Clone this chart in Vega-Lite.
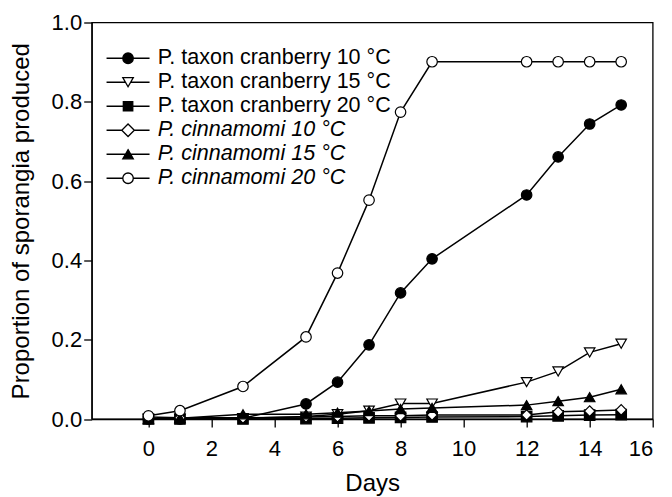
{
  "$schema": "https://vega.github.io/schema/vega-lite/v6.json",
  "width": 561,
  "height": 396.5,
  "autosize": {"type": "none"},
  "padding": {"left": 91.7, "top": 22.5, "right": 19.3, "bottom": 78},
  "background": "white",
  "config": {
    "font": "Liberation Sans",
    "view": {"stroke": "black", "strokeWidth": 1.3},
    "axis": {
      "domainColor": "black", "tickColor": "black", "labelColor": "black", "titleColor": "black",
      "grid": false, "labelFontSize": 22, "titleFontSize": 24, "titleFontWeight": "normal",
      "tickSize": 8, "domainWidth": 1.3, "tickWidth": 1.3,
      "labelFont": "Liberation Sans", "titleFont": "Liberation Sans"
    }
  },
  "datasets": {
    "d": [
      {"day": 0, "series": "P. taxon cranberry 10 °C", "value": 0},
      {"day": 1, "series": "P. taxon cranberry 10 °C", "value": 0},
      {"day": 3, "series": "P. taxon cranberry 10 °C", "value": 0.002},
      {"day": 5, "series": "P. taxon cranberry 10 °C", "value": 0.038},
      {"day": 6, "series": "P. taxon cranberry 10 °C", "value": 0.093},
      {"day": 7, "series": "P. taxon cranberry 10 °C", "value": 0.187},
      {"day": 8, "series": "P. taxon cranberry 10 °C", "value": 0.318},
      {"day": 9, "series": "P. taxon cranberry 10 °C", "value": 0.404},
      {"day": 12, "series": "P. taxon cranberry 10 °C", "value": 0.565},
      {"day": 13, "series": "P. taxon cranberry 10 °C", "value": 0.661},
      {"day": 14, "series": "P. taxon cranberry 10 °C", "value": 0.744},
      {"day": 15, "series": "P. taxon cranberry 10 °C", "value": 0.792},

      {"day": 0, "series": "P. taxon cranberry 15 °C", "value": 0},
      {"day": 1, "series": "P. taxon cranberry 15 °C", "value": 0},
      {"day": 3, "series": "P. taxon cranberry 15 °C", "value": 0.002},
      {"day": 5, "series": "P. taxon cranberry 15 °C", "value": 0.006},
      {"day": 6, "series": "P. taxon cranberry 15 °C", "value": 0.012},
      {"day": 7, "series": "P. taxon cranberry 15 °C", "value": 0.021},
      {"day": 8, "series": "P. taxon cranberry 15 °C", "value": 0.039},
      {"day": 9, "series": "P. taxon cranberry 15 °C", "value": 0.039},
      {"day": 12, "series": "P. taxon cranberry 15 °C", "value": 0.093},
      {"day": 13, "series": "P. taxon cranberry 15 °C", "value": 0.12},
      {"day": 14, "series": "P. taxon cranberry 15 °C", "value": 0.168},
      {"day": 15, "series": "P. taxon cranberry 15 °C", "value": 0.19},

      {"day": 0, "series": "P. taxon cranberry 20 °C", "value": 0},
      {"day": 1, "series": "P. taxon cranberry 20 °C", "value": 0},
      {"day": 3, "series": "P. taxon cranberry 20 °C", "value": 0},
      {"day": 5, "series": "P. taxon cranberry 20 °C", "value": 0.001},
      {"day": 6, "series": "P. taxon cranberry 20 °C", "value": 0.002},
      {"day": 7, "series": "P. taxon cranberry 20 °C", "value": 0.003},
      {"day": 8, "series": "P. taxon cranberry 20 °C", "value": 0.004},
      {"day": 9, "series": "P. taxon cranberry 20 °C", "value": 0.005},
      {"day": 12, "series": "P. taxon cranberry 20 °C", "value": 0.006},
      {"day": 13, "series": "P. taxon cranberry 20 °C", "value": 0.008},
      {"day": 14, "series": "P. taxon cranberry 20 °C", "value": 0.01},
      {"day": 15, "series": "P. taxon cranberry 20 °C", "value": 0.011},

      {"day": 0, "series": "P. cinnamomi 10 °C", "value": 0.005},
      {"day": 1, "series": "P. cinnamomi 10 °C", "value": 0.003},
      {"day": 3, "series": "P. cinnamomi 10 °C", "value": 0.003},
      {"day": 5, "series": "P. cinnamomi 10 °C", "value": 0.005},
      {"day": 6, "series": "P. cinnamomi 10 °C", "value": 0.006},
      {"day": 7, "series": "P. cinnamomi 10 °C", "value": 0.008},
      {"day": 8, "series": "P. cinnamomi 10 °C", "value": 0.008},
      {"day": 9, "series": "P. cinnamomi 10 °C", "value": 0.01},
      {"day": 12, "series": "P. cinnamomi 10 °C", "value": 0.01},
      {"day": 13, "series": "P. cinnamomi 10 °C", "value": 0.018},
      {"day": 14, "series": "P. cinnamomi 10 °C", "value": 0.02},
      {"day": 15, "series": "P. cinnamomi 10 °C", "value": 0.023},

      {"day": 0, "series": "P. cinnamomi 15 °C", "value": 0},
      {"day": 1, "series": "P. cinnamomi 15 °C", "value": 0.002},
      {"day": 3, "series": "P. cinnamomi 15 °C", "value": 0.012},
      {"day": 5, "series": "P. cinnamomi 15 °C", "value": 0.012},
      {"day": 6, "series": "P. cinnamomi 15 °C", "value": 0.016},
      {"day": 7, "series": "P. cinnamomi 15 °C", "value": 0.02},
      {"day": 8, "series": "P. cinnamomi 15 °C", "value": 0.025},
      {"day": 9, "series": "P. cinnamomi 15 °C", "value": 0.028},
      {"day": 12, "series": "P. cinnamomi 15 °C", "value": 0.035},
      {"day": 13, "series": "P. cinnamomi 15 °C", "value": 0.045},
      {"day": 14, "series": "P. cinnamomi 15 °C", "value": 0.055},
      {"day": 15, "series": "P. cinnamomi 15 °C", "value": 0.075},

      {"day": 0, "series": "P. cinnamomi 20 °C", "value": 0.008},
      {"day": 1, "series": "P. cinnamomi 20 °C", "value": 0.021},
      {"day": 3, "series": "P. cinnamomi 20 °C", "value": 0.082},
      {"day": 5, "series": "P. cinnamomi 20 °C", "value": 0.207},
      {"day": 6, "series": "P. cinnamomi 20 °C", "value": 0.368},
      {"day": 7, "series": "P. cinnamomi 20 °C", "value": 0.552},
      {"day": 8, "series": "P. cinnamomi 20 °C", "value": 0.774},
      {"day": 9, "series": "P. cinnamomi 20 °C", "value": 0.901},
      {"day": 12, "series": "P. cinnamomi 20 °C", "value": 0.901},
      {"day": 13, "series": "P. cinnamomi 20 °C", "value": 0.901},
      {"day": 14, "series": "P. cinnamomi 20 °C", "value": 0.901},
      {"day": 15, "series": "P. cinnamomi 20 °C", "value": 0.901}
    ]
  },
  "data": {"name": "d"},
  "encoding": {
    "x": {
      "field": "day", "type": "quantitative",
      "scale": {"domain": [-1.8, 16], "nice": false, "zero": false},
      "axis": {"values": [0, 2, 4, 6, 8, 10, 12, 14, 16], "title": "Days", "labelPadding": 11, "titlePadding": 12}
    },
    "y": {
      "field": "value", "type": "quantitative",
      "scale": {"domain": [0, 1], "nice": false},
      "axis": {"values": [0, 0.2, 0.4, 0.6, 0.8, 1.0], "format": ".1f", "title": "Proportion of sporangia produced", "labelPadding": 2, "titlePadding": 18}
    }
  },
  "layer": [
    {
      "mark": {"type": "line", "color": "black", "strokeWidth": 1.5},
      "encoding": {"detail": {"field": "series"}}
    },
    {
      "mark": {"type": "point", "filled": true, "stroke": "black", "strokeWidth": 1.2, "size": 110, "opacity": 1},
      "encoding": {
        "shape": {
          "field": "series", "type": "nominal",
          "scale": {
            "domain": ["P. taxon cranberry 10 °C", "P. taxon cranberry 15 °C", "P. taxon cranberry 20 °C", "P. cinnamomi 10 °C", "P. cinnamomi 15 °C", "P. cinnamomi 20 °C"],
            "range": ["circle", "triangle-down", "square", "diamond", "triangle-up", "circle"]
          },
          "legend": null
        },
        "fill": {
          "field": "series", "type": "nominal",
          "scale": {
            "domain": ["P. taxon cranberry 10 °C", "P. taxon cranberry 15 °C", "P. taxon cranberry 20 °C", "P. cinnamomi 10 °C", "P. cinnamomi 15 °C", "P. cinnamomi 20 °C"],
            "range": ["black", "white", "black", "white", "black", "white"]
          },
          "legend": null
        }
      }
    },
    {
      "mark": {"type": "point", "filled": true, "stroke": "black", "strokeWidth": 1.3, "size": 110, "opacity": 0},
      "encoding": {
        "shape": {
          "field": "series", "type": "nominal",
          "scale": {
            "domain": ["P. taxon cranberry 10 °C", "P. taxon cranberry 15 °C", "P. taxon cranberry 20 °C", "P. cinnamomi 10 °C", "P. cinnamomi 15 °C", "P. cinnamomi 20 °C"],
            "range": [
              "M-4.1,0H-1M1,0H4.1M-1,0A1,1,0,1,0,1,0A1,1,0,1,0,-1,0Z",
              "M-4.1,0H-0.5M0.5,0H4.1M-1,-0.87L1,-0.87L0,0.87Z",
              "M-4.1,0H-0.9M0.9,0H4.1M-0.9,-0.9H0.9V0.9H-0.9Z",
              "M-4.1,0H-1.2M1.2,0H4.1M0,-1.2L1.2,0L0,1.2L-1.2,0Z",
              "M-4.1,0H-0.5M0.5,0H4.1M0,-0.87L1,0.87L-1,0.87Z",
              "M-4.1,0H-1.05M1.05,0H4.1M-1,0A1,1,0,1,0,1,0A1,1,0,1,0,-1,0Z"
            ]
          },
          "legend": {
            "orient": "none", "legendX": 25.6, "legendY": 25, "title": null, "padding": 0,
            "labelFontSize": 21.5, "labelFont": "Liberation Sans", "labelColor": "black", "labelOffset": 19, "labelLimit": 0,
            "symbolSize": 110, "symbolStrokeColor": "black", "symbolStrokeWidth": 1.3, "symbolOpacity": 1,
            "rowPadding": 1,
            "encode": {
              "labels": {"update": {"fontStyle": {"signal": "indexof(datum.value, 'cinnamomi') >= 0 ? 'italic' : 'normal'"}}}
            }
          }
        },
        "fill": {
          "field": "series", "type": "nominal",
          "scale": {
            "domain": ["P. taxon cranberry 10 °C", "P. taxon cranberry 15 °C", "P. taxon cranberry 20 °C", "P. cinnamomi 10 °C", "P. cinnamomi 15 °C", "P. cinnamomi 20 °C"],
            "range": ["black", "white", "black", "white", "black", "white"]
          },
          "legend": {
            "orient": "none", "legendX": 25.6, "legendY": 25, "title": null, "padding": 0,
            "labelFontSize": 21.5, "labelFont": "Liberation Sans", "labelColor": "black", "labelOffset": 19, "labelLimit": 0,
            "symbolSize": 110, "symbolStrokeColor": "black", "symbolStrokeWidth": 1.3, "symbolOpacity": 1,
            "rowPadding": 1,
            "encode": {
              "labels": {"update": {"fontStyle": {"signal": "indexof(datum.value, 'cinnamomi') >= 0 ? 'italic' : 'normal'"}}}
            }
          }
        }
      }
    }
  ],
  "resolve": {"scale": {"shape": "independent", "fill": "independent"}}
}
